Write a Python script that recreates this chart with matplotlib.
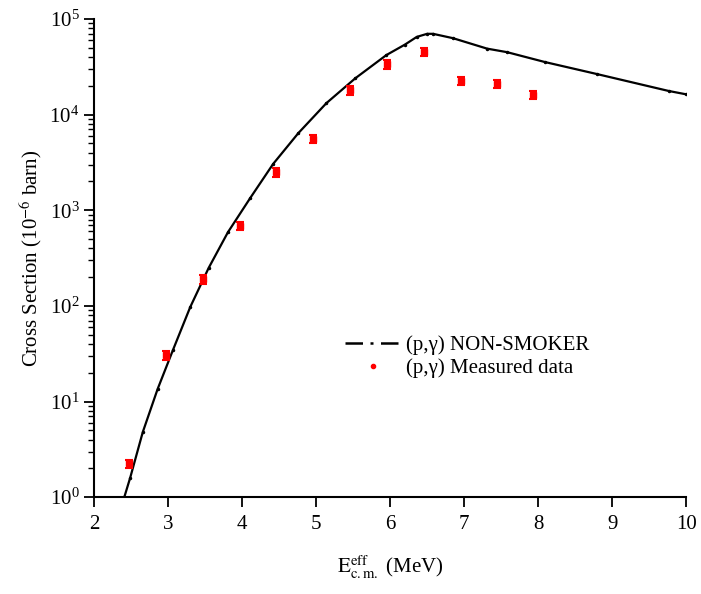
import matplotlib
matplotlib.use('Agg')
import matplotlib.pyplot as plt
from matplotlib.lines import Line2D
import numpy as np

plt.rcParams['font.family'] = ['Liberation Serif', 'DejaVu Serif']
plt.rcParams['mathtext.fontset'] = 'stix'

# NON-SMOKER calculation
calc_e = [2.41, 2.49, 2.66, 2.86, 3.07, 3.30, 3.55, 3.81, 4.11, 4.42, 4.76,
          5.14, 5.53, 5.95, 6.20, 6.36, 6.50, 6.58, 6.85, 7.31, 7.58,
          8.09, 8.80, 9.76, 10.0]
calc_xs = [1.0, 1.6, 4.8, 13.5, 35, 97, 250, 590, 1340, 3050, 6400,
           13200, 24000, 42000, 54000, 65000, 70000, 70000, 63000, 49000, 45000,
           35500, 26500, 17700, 16300]

# measured data
meas_e = [2.48, 2.98, 3.47, 3.97, 4.46, 4.96, 5.46, 5.96, 6.46, 6.96, 7.45, 7.93]
meas_xs = [2.25, 30.5, 190, 690, 2500, 5560, 18000, 33500, 45500, 22500, 21000, 16000]
meas_err = [0.1] * len(meas_e)  # relative error

fig = plt.figure(figsize=(7.01, 5.94), dpi=100)
ax = fig.add_axes([0.134, 0.163, 0.845, 0.805])

ax.plot(calc_e, calc_xs, color='k', lw=1.6, marker='.', ms=3)
yerr = np.array(meas_xs) * np.array(meas_err)
ax.errorbar(meas_e, meas_xs, yerr=yerr, fmt='s', color='red', ms=4,
            capsize=3, elinewidth=1.5, capthick=1.5)

ax.set_yscale('log')
ax.set_xlim(2, 10)
ax.set_ylim(1, 1e5)
ax.set_xticks(range(2, 11))
ax.spines['top'].set_visible(False)
ax.spines['right'].set_visible(False)
for s in ['left', 'bottom']:
    ax.spines[s].set_linewidth(1.5)
ax.tick_params(axis='both', which='major', labelsize=15, width=1.3, length=7, direction='out')
ax.tick_params(axis='x', which='major', pad=6)
ax.tick_params(axis='y', which='minor', width=1.0, length=4.5, direction='out')

ax.set_xlabel(r'$\mathrm{E}_{\mathrm{c.m.}}^{\mathrm{eff}}$ (MeV)', fontsize=15, labelpad=14)
ax.set_ylabel(r'Cross Section (10$^{-6}$ barn)', fontsize=15)

h1 = Line2D([], [], color='k', lw=1.8, linestyle=(0, (7, 3, 1.2, 3)))
h2 = Line2D([], [], color='red', marker='o', ms=3, linestyle='none')
ax.legend([h1, h2], ['(p,γ) NON-SMOKER', '(p,γ) Measured data'],
          loc='upper left', bbox_to_anchor=(0.393, 0.377), frameon=False,
          fontsize=15, handlelength=2.6, handletextpad=0.3, labelspacing=0.15)

fig.savefig('out.png', dpi=100)
